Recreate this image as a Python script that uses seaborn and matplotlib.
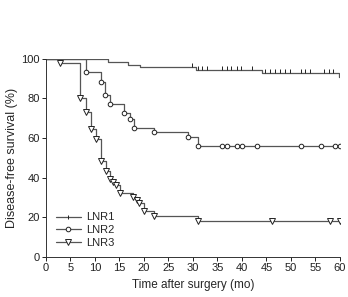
import matplotlib
matplotlib.use("Agg")
import matplotlib.pyplot as plt
from matplotlib.lines import Line2D
import seaborn as sns
import pandas as pd

# step points (time in months, survival in %)
lnr1_time = [0, 12.7, 16.8, 19.2, 30.7, 44.0, 59.8, 60]
lnr1_surv = [100, 98.5, 97.0, 95.7, 94.3, 92.7, 90.8, 90.8]
lnr1_cens_time = [29.9, 31.1, 31.9, 32.8, 36.0, 36.9, 37.8, 38.9, 39.9, 42.0,
                  44.7, 45.7, 46.7, 47.8, 48.8, 49.8, 52.0, 52.9, 53.9, 56.8, 57.8, 58.6]

lnr2_time = [0, 8.2, 11.2, 12.1, 13.1, 16.0, 17.1, 18.0, 22.0, 29.0, 31.1, 60]
lnr2_surv = [100, 93.3, 88.5, 81.8, 77.1, 72.6, 69.7, 65.3, 63.0, 60.4, 56.0, 56.0]
lnr2_cens_time = [36.0, 37.0, 39.0, 40.0, 43.1, 52.0, 56.1, 59.0, 60.0]

lnr3_time = [0, 2.9, 6.9, 8.2, 9.1, 10.3, 11.2, 12.2, 13.1, 13.7, 14.3, 15.1,
             17.8, 18.5, 19.0, 20.0, 22.0, 31.1, 60]
lnr3_surv = [100, 98.0, 80.2, 73.4, 64.5, 59.4, 48.5, 43.5, 39.5, 38.0, 36.5, 32.2,
             30.0, 28.8, 27.2, 23.1, 20.7, 18.2, 18.2]
lnr3_cens_time = [46.1, 58.0, 59.9]

sns.set_style("ticks")
plt.rcParams['font.family'] = ['Liberation Sans', 'DejaVu Sans']

fig = plt.figure(figsize=(3.48, 2.97), dpi=100)
ax = fig.add_axes([0.132, 0.135, 0.845, 0.667])

col = '#555555'
mcol = '#222222'

def draw(times, surv, cens, marker, ms):
    df = pd.DataFrame({'t': times, 's': surv})
    sns.lineplot(data=df, x='t', y='s', ax=ax, color=col, lw=0.9,
                 drawstyle='steps-post', estimator=None, sort=False)
    if marker is not None:
        # markers at each drop, then censored cases on the last level
        ax.plot(times[1:-1], surv[1:-1], ls='none', marker=marker, ms=ms,
                mfc='white', mec=mcol, mew=0.7)
        ax.plot(cens, [surv[-1]] * len(cens), ls='none', marker=marker, ms=ms,
                mfc='white', mec=mcol, mew=0.7)

draw(lnr1_time, lnr1_surv, lnr1_cens_time, None, 0)
# LNR1 censor ticks on the level in force at each time
lvl = []
for c in lnr1_cens_time:
    v = lnr1_surv[0]
    for t, s in zip(lnr1_time, lnr1_surv):
        if t <= c:
            v = s
    lvl.append(v)
ax.plot(lnr1_cens_time, lvl, ls='none', marker=2, ms=3.2, mec=mcol, mew=0.7)

draw(lnr2_time, lnr2_surv, lnr2_cens_time, 'o', 3.3)
draw(lnr3_time, lnr3_surv, lnr3_cens_time, 'v', 3.8)

ax.set_xlim(0, 60)
ax.set_ylim(0, 100)
ax.set_xticks(range(0, 61, 5))
ax.set_yticks(range(0, 101, 20))
ax.tick_params(labelsize=8, length=3, width=0.7, pad=1.5, colors='#222222')
for sp in ['left', 'bottom']:
    ax.spines[sp].set_linewidth(0.7)
    ax.spines[sp].set_color('#333333')
sns.despine(ax=ax)

ax.set_xlabel('Time after surgery (mo)', fontsize=8.5, labelpad=4)
ax.set_ylabel('Disease-free survival (%)', fontsize=9, labelpad=2)

handles = [
    Line2D([], [], color=col, lw=0.9, marker='|', ms=3.5, mec=mcol, mew=0.7),
    Line2D([], [], color=col, lw=0.9, marker='o', ms=3.3, mfc='white', mec=mcol, mew=0.7),
    Line2D([], [], color=col, lw=0.9, marker='v', ms=3.8, mfc='white', mec=mcol, mew=0.7),
]
ax.legend(handles, ['LNR1', 'LNR2', 'LNR3'], loc='lower left',
          bbox_to_anchor=(0.035, 0.045), borderaxespad=0, borderpad=0,
          frameon=False, fontsize=8, handlelength=2.2, handletextpad=0.45,
          labelspacing=0.25)

fig.savefig('out.png', dpi=100)
